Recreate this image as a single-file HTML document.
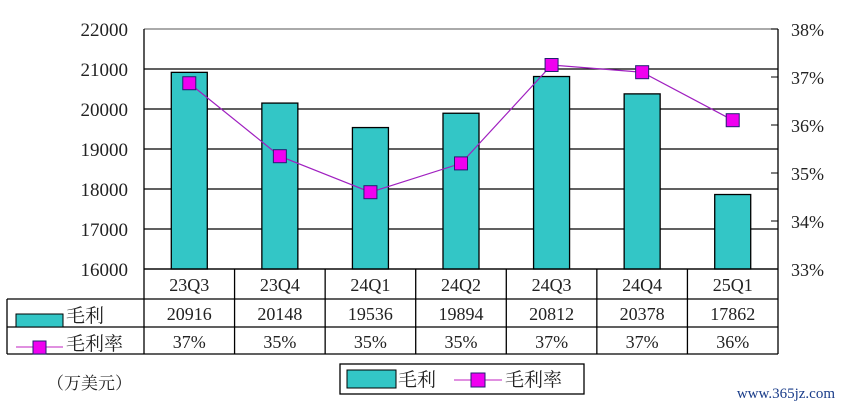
<!DOCTYPE html>
<html><head><meta charset="utf-8"><style>
body{margin:0;background:#fff;}
svg text{font-family:"Liberation Serif","Noto Serif CJK SC",serif;fill:#222;}
</style></head><body>
<svg id="chart" width="842" height="410" viewBox="0 0 842 410" xmlns="http://www.w3.org/2000/svg"></svg>
<script>
const categories=["23Q3","23Q4","24Q1","24Q2","24Q3","24Q4","25Q1"];
const grossProfit=[20916,20148,19536,19894,20812,20378,17862];
const marginPct=[36.87,35.35,34.6,35.2,37.25,37.1,36.1];
const marginLabels=["37%","35%","35%","35%","37%","37%","36%"];
const leftTicks=[16000,17000,18000,19000,20000,21000,22000];
const rightTicks=[33,34,35,36,37,38];

const svg=document.getElementById('chart');
const NS="http://www.w3.org/2000/svg";
const X0=144,X1=778,Y0=269,Y1=29;
const colW=(X1-X0)/categories.length;
function yL(v){return Y0-(v-16000)/(22000-16000)*(Y0-Y1);}
function yR(v){return Y0-(v-33)/(38-33)*(Y0-Y1);}
function xC(i){return X0+colW*(i+0.5);}
function mk(tag,attrs,text){const e=document.createElementNS(NS,tag);for(const k in attrs)e.setAttribute(k,attrs[k]);if(text!==undefined)e.textContent=text;svg.appendChild(e);return e;}

// gridlines
leftTicks.forEach(t=>{
  const g=mk('line',{x1:X0,x2:X1,y1:yL(t),y2:yL(t),stroke:t===22000?'#777':'#000','stroke-width':1.3});
  
  
  const l=mk('text',{x:128,y:yL(t)+7,'font-size':19,'text-anchor':'end'},String(t));
  
  
});
rightTicks.forEach(t=>{
  const tk=mk('line',{x1:X1-7,x2:X1,y1:yR(t),y2:yR(t),stroke:'#000'});
  
  
  const l=mk('text',{x:791,y:yR(t)+7,'font-size':18},t+'%');
  
  
});
// axes
const la=mk('line',{x1:X0,x2:X0,y1:Y1,y2:Y0,stroke:'#000','stroke-width':1.3});


const ra=mk('line',{x1:X1,x2:X1,y1:Y1,y2:Y0,stroke:'#000','stroke-width':1.3});



// bars
grossProfit.forEach((v,i)=>{
  const b=mk('rect',{x:xC(i)-18,y:yL(v),width:36,height:Y0-yL(v),fill:'#33c6c6',stroke:'#000','stroke-width':1.3});
  
  
});
// line
const pts=marginPct.map((v,i)=>xC(i)+','+yR(v)).join(' ');
const pl=mk('polyline',{points:pts,fill:'none',stroke:'#a020c0','stroke-width':1.2});


marginPct.forEach((v,i)=>{
  const m=mk('rect',{x:xC(i)-6.5,y:yR(v)-6.5,width:13,height:13,fill:'#f000f0',stroke:'#222070','stroke-width':1});
  
  
});

// table
const tl=[[X0,269,X1,269],[7,299,X1,299],[7,327,X1,327],[7,354,X1,354],[7,299,7,354],[X0,269,X0,354]];
for(let i=1;i<=categories.length;i++)tl.push([X0+colW*i,269,X0+colW*i,354]);
tl.forEach(a=>{
  const l=mk('line',{x1:a[0],y1:a[1],x2:a[2],y2:a[3],stroke:'#000','stroke-width':1.3});
  
  
});
categories.forEach((c,i)=>{
  const t=mk('text',{x:xC(i),y:291,'font-size':18,'text-anchor':'middle'},c);
  
  
  const v=mk('text',{x:xC(i),y:320,'font-size':18,'text-anchor':'middle'},String(grossProfit[i]));
  
  
  const p=mk('text',{x:xC(i),y:348,'font-size':18,'text-anchor':'middle'},marginLabels[i]);
  
  
});
// row legends
const s1=mk('rect',{x:16,y:314,width:47,height:13,fill:'#33c6c6',stroke:'#000','stroke-width':1});


const t1=mk('text',{x:66,y:322,'font-size':19},'毛利');


const l2=mk('line',{x1:16,x2:63,y1:347,y2:347,stroke:'#c020c0'});


const s2=mk('rect',{x:33,y:341,width:13,height:13,fill:'#f000f0',stroke:'#222070'});


const t2=mk('text',{x:66,y:350,'font-size':19},'毛利率');



const u=mk('text',{x:47,y:389,'font-size':17},'（万美元）');



// legend
const lb=mk('rect',{x:340,y:364,width:244,height:30,fill:'#fff',stroke:'#000','stroke-width':1.3});


const ls=mk('rect',{x:347,y:370,width:49,height:18,fill:'#33c6c6',stroke:'#000'});


const lt=mk('text',{x:398,y:386,'font-size':19},'毛利');


const ll=mk('line',{x1:454,x2:502,y1:380,y2:380,stroke:'#c020c0'});


const lm=mk('rect',{x:471,y:373,width:14,height:14,fill:'#f000f0',stroke:'#222070'});


const lt2=mk('text',{x:505,y:386,'font-size':19},'毛利率');



const w=mk('text',{x:835,y:398,'font-size':15,'text-anchor':'end',style:'fill:#1a3d8a'},'www.365jz.com');


</script>
</body></html>
